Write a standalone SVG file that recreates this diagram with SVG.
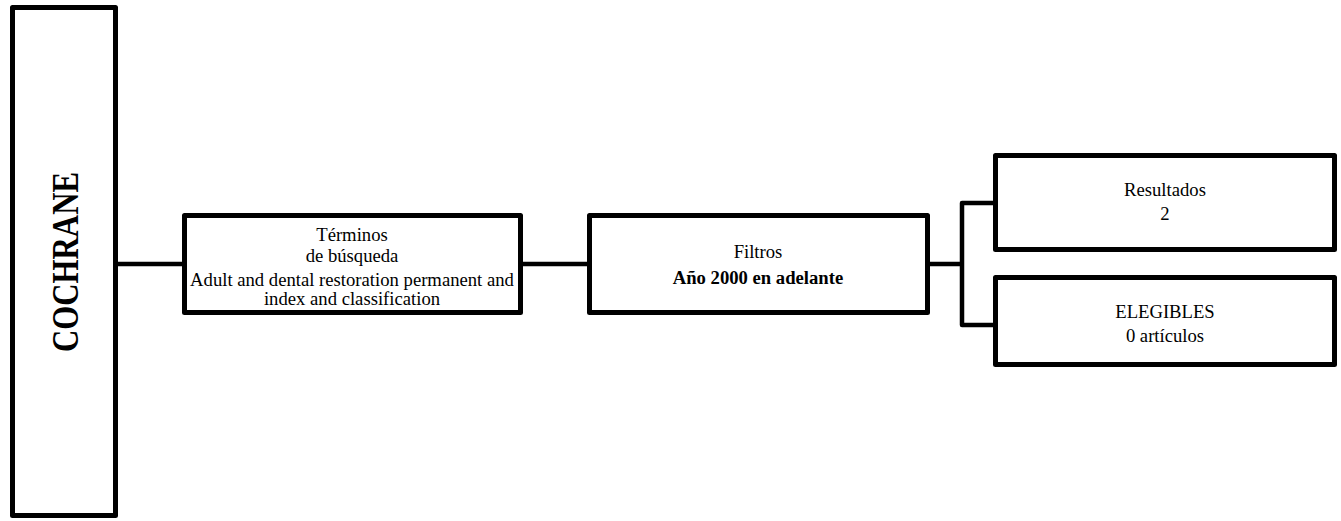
<svg xmlns="http://www.w3.org/2000/svg" width="1341" height="521" viewBox="0 0 1341 521">
<style>
.box{fill:#fff;stroke:#000;stroke-width:5;stroke-linejoin:round}
.con{fill:none;stroke:#000;stroke-width:4.5;stroke-linejoin:round}
text{font-family:"Liberation Serif","Times New Roman",serif;font-size:18.67px;fill:#000;text-anchor:middle}
.b{font-weight:bold}
</style>
<rect width="1341" height="521" fill="#fff"/>
<g id="connectors">
<line class="con" x1="118" y1="264" x2="183" y2="264"/>
<line class="con" x1="522" y1="264" x2="588" y2="264"/>
<line class="con" x1="929" y1="264" x2="962" y2="264"/>
<path class="con" d="M995,203 H962 V325 H995"/>
</g>
<g id="cochrane">
<rect class="box" x="12.5" y="7.5" width="103" height="508"/>
<text class="b" transform="translate(78,262) rotate(-90)" x="0" y="0" style="font-size:38px" textLength="180" lengthAdjust="spacingAndGlyphs">COCHRANE</text>
</g>
<g id="terminos">
<rect class="box" x="184.5" y="215.5" width="336" height="97"/>
<text x="352" y="241">Términos</text>
<text x="352" y="262">de búsqueda</text>
<text x="352" y="286">Adult and dental restoration permanent and</text>
<text x="352" y="305">index and classification</text>
</g>
<g id="filtros">
<rect class="box" x="589.5" y="215.5" width="338" height="97"/>
<text x="758" y="258">Filtros</text>
<text class="b" x="758" y="284">Año 2000 en adelante</text>
</g>
<g id="resultados">
<rect class="box" x="995.5" y="155.5" width="339" height="94"/>
<text x="1165" y="196">Resultados</text>
<text x="1165" y="220">2</text>
</g>
<g id="elegibles">
<rect class="box" x="995.5" y="277.5" width="339" height="87"/>
<text x="1165" y="318">ELEGIBLES</text>
<text x="1165" y="342">0 artículos</text>
</g>
</svg>
